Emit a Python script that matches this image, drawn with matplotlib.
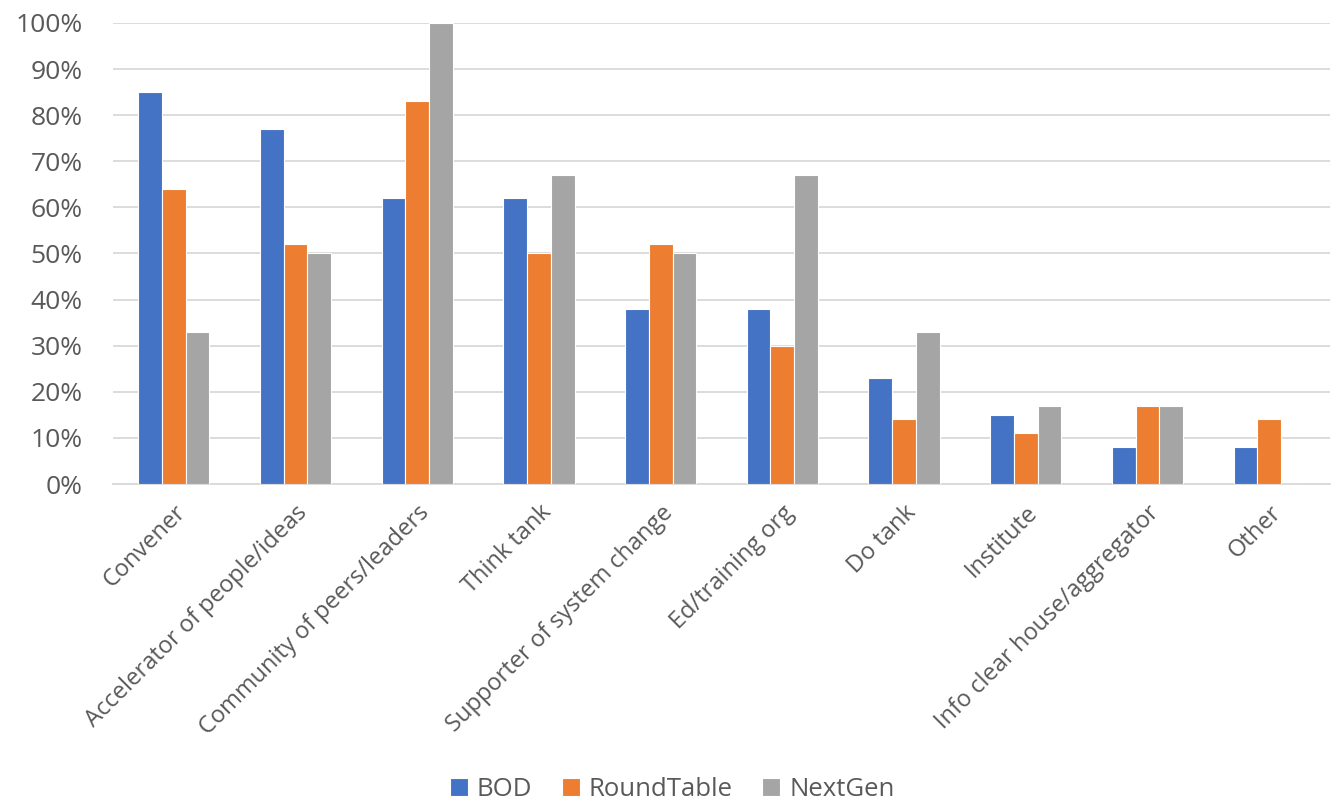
import matplotlib.pyplot as plt
import numpy as np
from matplotlib.ticker import PercentFormatter

plt.rcParams['font.family'] = ['Open Sans', 'DejaVu Sans']

# Datos
categorias = ['Convener', 'Accelerator of people/ideas', 'Community of peers/leaders',
              'Think tank', 'Supporter of system change', 'Ed/training org', 'Do tank',
              'Institute', 'Info clear house/aggregator', 'Other']
bod = [85, 77, 62, 62, 38, 38, 23, 15, 8, 8]
roundtable = [64, 52, 83, 50, 52, 30, 14, 11, 17, 14]
nextgen = [33, 50, 100, 67, 50, 67, 33, 17, 17, 0]

series = ['BOD', 'RoundTable', 'NextGen']
colores = ['#4472C4', '#ED7D31', '#A5A5A5']
texto = '#595959'

fig = plt.figure(figsize=(13.44, 7.99), dpi=100)
ax = fig.add_axes([113 / 1344, 1 - 484 / 799, (1330 - 113) / 1344, (484 - 23) / 799])

x = np.arange(len(categorias))
ancho = 0.195
for i, (vals, nombre) in enumerate(zip([bod, roundtable, nextgen], series)):
    ax.bar(x + (i - 1) * ancho, vals, ancho, color=colores[i], label=nombre,
           edgecolor='white', linewidth=0.8, zorder=3)

ax.set_xlim(-0.5, len(categorias) - 0.5)
ax.set_ylim(0, 100)
ax.set_yticks(np.arange(0, 101, 10))
ax.yaxis.set_major_formatter(PercentFormatter(decimals=0))
ax.grid(axis='y', color='#D9D9D9', linewidth=1.3, zorder=0)
for lado in ['top', 'right', 'left']:
    ax.spines[lado].set_visible(False)
ax.spines['bottom'].set_color('#D9D9D9')
ax.spines['bottom'].set_linewidth(1.3)
ax.tick_params(axis='both', length=0, labelcolor=texto)
ax.tick_params(axis='y', pad=22, labelsize=19)

ax.set_xticks(x)
ax.set_xticklabels(categorias, rotation=45, ha='right', rotation_mode='anchor')
ax.tick_params(axis='x', pad=12, labelsize=17)

fig.legend(loc='center', bbox_to_anchor=(0.5, 1 - 789 / 799), ncol=3, frameon=False,
           fontsize=18.5, labelcolor=texto, handlelength=0.7, handleheight=0.7,
           handletextpad=0.35, columnspacing=1.15)

fig.savefig('out.png', dpi=100)
